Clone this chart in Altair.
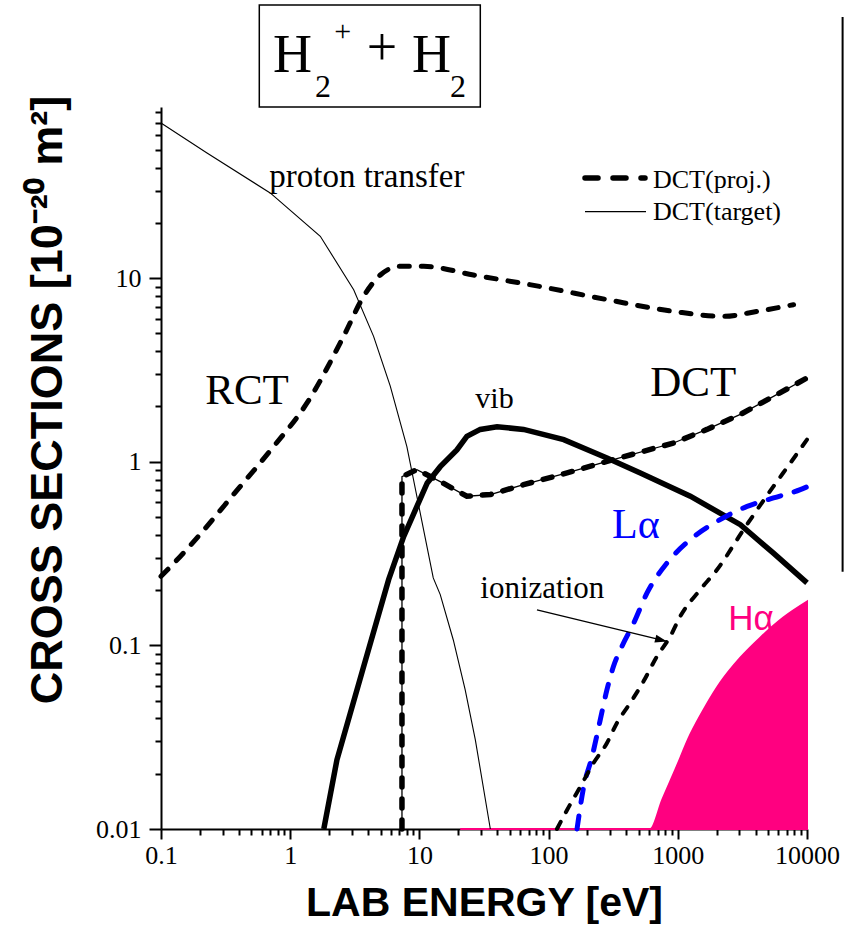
import altair as alt
import pandas as pd

# ---------------- data ----------------
pt_x = [0.1, 0.227, 0.70, 1.71, 3.1, 4.42, 5.95, 8.0, 12.8, 14.5, 18.3, 22.6, 27.1, 35.4]
pt_y = [70, 48, 29.1, 16.9, 8.65, 4.82, 2.58, 1.21, 0.233, 0.189, 0.107, 0.0574, 0.0306, 0.01]

rct_x = [0.1, 0.141, 0.411, 0.744, 1.35, 2.59, 3.70, 4.98, 7.1, 10.8, 26.2, 86, 283, 927, 2260, 4100, 7870]
rct_y = [0.238, 0.305, 0.734, 1.21, 2.09, 4.82, 7.96, 10.4, 11.6, 11.6, 10.4, 9.0, 7.64, 6.59, 6.19, 6.59, 7.17]

dct_x = [7.33, 7.33, 9.57, 14.5, 23.3, 35.4, 64, 139, 283, 927, 1680, 3050, 5500, 10000]
dct_y = [0.01, 0.83, 0.906, 0.78, 0.649, 0.663, 0.75, 0.869, 1.005, 1.265, 1.50, 1.81, 2.27, 2.86]

vib_x = [1.82, 2.30, 3.61, 5.78, 7.55, 11.5, 14.5, 19.5, 23.3, 29.6, 39.9, 64, 131, 283, 513, 1250, 3050, 5500, 10000]
vib_y = [0.01, 0.0238, 0.0720, 0.228, 0.391, 0.767, 0.94, 1.16, 1.375, 1.50, 1.55, 1.50, 1.32, 1.049, 0.869, 0.649, 0.454, 0.318, 0.219]

la_x = [166, 187, 217, 251, 283, 318, 370, 455, 578, 825, 1250, 2010, 3440, 5500, 8870, 10000]
la_y = [0.01, 0.017, 0.0248, 0.0393, 0.0574, 0.0769, 0.099, 0.132, 0.193, 0.281, 0.377, 0.473, 0.571, 0.635, 0.705, 0.73]

ion_x = [116, 139, 176, 223, 283, 338, 428, 543, 690, 875, 1045, 1490, 2010, 3230, 5500, 7430, 10000]
ion_y = [0.01, 0.0127, 0.017, 0.0229, 0.0294, 0.0378, 0.0485, 0.0637, 0.0871, 0.112, 0.144, 0.201, 0.258, 0.427, 0.734, 0.984, 1.32]

ha_x = [20.7, 612, 759, 957, 1250, 1633, 2133, 3048, 4353, 6557, 10000]
ha_y = [0.01, 0.01, 0.01445, 0.02104, 0.03269, 0.04634, 0.0627, 0.0857, 0.1102, 0.1416, 0.173]

arrow_x = [81.3, 825]
arrow_y = [0.156, 0.105]

ann_text = ["proton transfer", "RCT", "vib", "DCT", "ionization"]
ann_x = [0.689, 0.220, 27.1, 612, 29.6]
ann_y = [31.5, 2.07, 1.96, 2.27, 0.181]
ann_size = [33, 43, 30, 43, 31]

x_major = [0.1, 1, 10, 100, 1000, 10000]
y_major = [0.01, 0.1, 1, 10]
x_ticks = [m * d for d in x_major[:-1] for m in range(1, 10)] + [10000]
y_ticks = [m * d for d in y_major for m in range(1, 10)]

# ---------------- styling ----------------
W, H = 646, 722
SERIF = "Liberation Serif"
SANS = "Liberation Sans"
PINK = "#ff0080"

TEST = "abs(log(datum.value)/LN10 - round(log(datum.value)/LN10)) < 0.001"

xscale = alt.Scale(type="log", domain=[0.1, 10000], nice=False)
yscale = alt.Scale(type="log", domain=[0.01, 85.5], nice=False)

xaxis = alt.Axis(
    values=x_ticks, labelExpr=f"{TEST} ? format(datum.value, '~g') : ''",
    tickSize={"condition": {"test": TEST, "value": 10}, "value": 6},
    tickWidth=2, tickColor="black", domainColor="black", domainWidth=2,
    labelFont=SERIF, labelFontSize=26, labelColor="black", labelPadding=3,
    labelOverlap=False, labelFlush=False, grid=False,
    title="LAB ENERGY [eV]", titleFont=SANS, titleFontSize=41,
    titleFontWeight="bold", titleColor="black", titleY=86, titleBaseline="alphabetic",
)
yaxis = alt.Axis(
    values=y_ticks, labelExpr=f"{TEST} ? format(datum.value, '~g') : ''",
    tickSize={"condition": {"test": TEST, "value": 12}, "value": 6},
    tickWidth=2, tickColor="black", domainColor="black", domainWidth=2,
    labelFont=SERIF, labelFontSize=26, labelColor="black", labelPadding=8,
    labelOverlap=False, labelFlush=False, grid=False, title=None,
)

X = alt.X("x:Q", scale=xscale, axis=xaxis)
Y = alt.Y("y:Q", scale=yscale, axis=yaxis)


def frame(xs, ys):
    return pd.DataFrame({"x": xs, "y": ys, "i": list(range(len(xs))), "base": [0.01] * len(xs)})


def curve(xs, ys, color="black", width=1.0, dash=None, interp="linear"):
    kw = dict(color=color, strokeWidth=width, clip=False, interpolate=interp)
    if dash:
        kw["strokeDash"] = dash
        kw["strokeCap"] = "round"
    return alt.Chart(frame(xs, ys)).mark_line(**kw).encode(x=X, y=Y, order="i:Q")


one = pd.DataFrame({"d": [0]})


def ptext(txt, x, y, size, font=SERIF, color="black", align="left", weight="normal", angle=0):
    return alt.Chart(one).mark_text(
        text=txt, fontSize=size, font=font, color=color, align=align,
        baseline="alphabetic", fontWeight=weight, angle=angle,
    ).encode(x=alt.value(x), y=alt.value(y))


def prule(x, y, x2, y2, width=1.0, dash=None):
    kw = dict(color="black", strokeWidth=width)
    if dash:
        kw["strokeDash"] = dash
        kw["strokeCap"] = "round"
    return alt.Chart(one).mark_rule(**kw).encode(
        x=alt.value(x), y=alt.value(y), x2=alt.value(x2), y2=alt.value(y2))


# H-alpha filled region
ha_area = alt.Chart(frame(ha_x, ha_y)).mark_area(
    fill=PINK, fillOpacity=1, stroke=PINK, strokeWidth=2, interpolate="monotone"
).encode(x=X, y=Y, y2=alt.Y2("base:Q"))

layers = [
    ha_area,
    curve(pt_x, pt_y, width=1.1),
    curve(rct_x, rct_y, width=5, dash=[10, 12], interp="monotone"),
    curve(dct_x, dct_y, width=5.5, dash=[9, 12]),
    curve(dct_x, dct_y, width=1.3),
    curve(vib_x, vib_y, width=5.5),
    curve(la_x, la_y, color="#0000ff", width=5, dash=[13, 14], interp="monotone"),
    curve(ion_x, ion_y, width=4, dash=[8, 11], interp="monotone"),
]

# arrow for "ionization"
arrow_df = pd.DataFrame({"x": [arrow_x[0]], "y": [arrow_y[0]], "x2": [arrow_x[1]], "y2": [arrow_y[1]]})
layers.append(alt.Chart(arrow_df).mark_rule(color="black", strokeWidth=1.3).encode(
    x=X, y=Y, x2="x2:Q", y2="y2:Q"))
head_df = pd.DataFrame({"x": [arrow_x[1]], "y": [arrow_y[1]]})
layers.append(alt.Chart(head_df).mark_point(
    shape="M0,0L-3,-1L-3,1Z", size=64, filled=True, color="black", opacity=1, angle=13.7
).encode(x=X, y=Y))

# annotations in data coordinates
ann_df = pd.DataFrame({"x": ann_x, "y": ann_y, "t": ann_text, "s": ann_size})
layers.append(alt.Chart(ann_df).mark_text(
    font=SERIF, color="black", align="left", baseline="alphabetic"
).encode(x=X, y=Y, text="t:N", size=alt.Size("s:Q", scale=None, legend=None)))

la_df = pd.DataFrame({"x": [310], "y": [0.385], "t": ["L\u03b1"]})
layers.append(alt.Chart(la_df).mark_text(
    font=SERIF, fontSize=42, color="#0000ff", align="left", baseline="alphabetic"
).encode(x=X, y=Y, text="t:N"))
ha_df = pd.DataFrame({"x": [2460], "y": [0.1216], "t": ["H\u03b1"]})
layers.append(alt.Chart(ha_df).mark_text(
    font=SANS, fontSize=35, color=PINK, align="left", baseline="alphabetic"
).encode(x=X, y=Y, text="t:N"))

# legend (drawn by hand)
layers += [
    prule(424, 71, 484, 71, width=5.5, dash=[13, 15]),
    ptext("DCT(proj.)", 492, 81, 26),
    prule(424, 104.7, 485, 104.7, width=1.3),
    ptext("DCT(target)", 492, 113, 26),
]

# boxed reaction title H2+ + H2
layers += [
    alt.Chart(one).mark_rect(fill="white", stroke="black", strokeWidth=1.5).encode(
        x=alt.value(98.3), x2=alt.value(319.3), y=alt.value(-102), y2=alt.value(0)),
    ptext("H", 112, -35, 54),
    ptext("2", 154, -10, 32),
    ptext("+", 181.8, -66, 30, align="center"),
    ptext("+", 221, -42, 54, align="center"),
    ptext("H", 251, -35, 54),
    ptext("2", 289, -10, 32),
]

# y title (rotated), and the edge of the neighbouring panel
layers += [
    ptext("CROSS SECTIONS [10\u207b\u00b2\u2070 m\u00b2]", -99, 293, 45,
          font=SANS, weight="bold", align="center", angle=270),
    prule(681.6, -90, 681.6, 464.7, width=2),
]

chart = alt.layer(*layers).properties(
    width=W, height=H,
    autosize=alt.AutoSizeParams(type="none"),
    padding={"left": 161, "top": 107, "right": 37, "bottom": 109},
    background="white",
).configure_view(stroke=None)

chart.save("out.html", embed_options={"renderer": "svg", "actions": False})
